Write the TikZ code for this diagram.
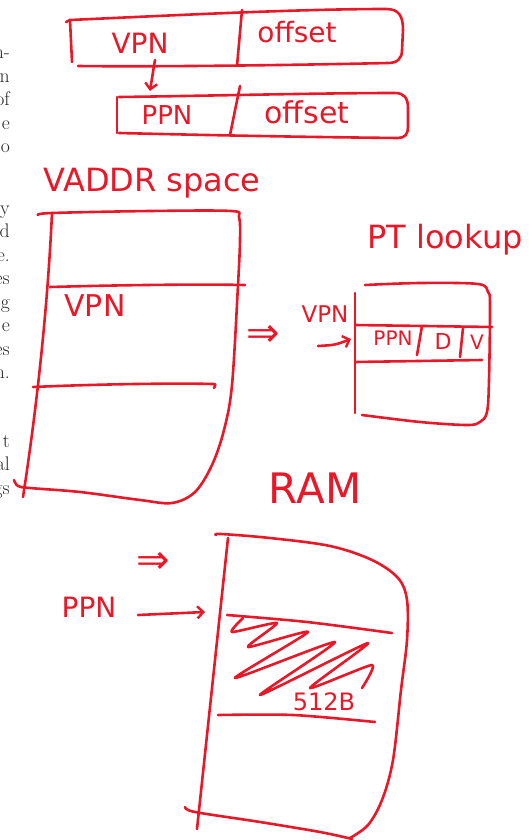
\documentclass[tikz,border=0pt]{standalone}
\usepackage{fontspec}
\newfontfamily\hand{DejaVu Sans}
\usetikzlibrary{arrows.meta}
\definecolor{ink}{RGB}{232,24,40}
\begin{document}
\begin{tikzpicture}[x=1pt,y=-1pt,
  pen/.style={draw=ink, line width=2.6pt, line cap=round, line join=round},
  barb/.style={-{Straight Barb[length=6pt,width=12pt,line width=2.4pt]}},
  handtext/.style={text=ink, inner sep=0pt, font=\hand\fontsize{#1}{#1}\selectfont},
  margintext/.style={anchor=base east, inner sep=0pt, text=black!85,
    font=\fontsize{19.7}{23.5}\selectfont}]
\useasboundingbox (0,0) rectangle (529,840);

% running text at the left margin
\foreach \t [count=\i from 0] in {n-,n,of,e,o}
  \node[margintext] (mA\i) at (10,59+23.5*\i) {\t};
\foreach \t [count=\i from 0] in {y,d,e.,es,g,e,es,n.}
  \node[margintext] (mB\i) at (10,214+23.5*\i) {\t};
\foreach \t [count=\i from 0] in {t,al,gs}
  \node[margintext] (mC\i) at (10,447+23.5*\i) {\t};

% virtual address: VPN | offset
\draw[pen] (66,22) -- (70,20) .. controls (180,15) and (300,9) .. (386,9)
  .. controls (399,9) and (403,16) .. (403,30) -- (402,50)
  .. controls (402,59) and (397,63) .. (388,63)
  .. controls (300,65) and (160,67) .. (78,66);
\draw[pen] (70,20) -- (72,62);
\draw[pen] (242,10) -- (237,66);
\node[handtext=28] (vpnA) at (140,43) {VPN};
\node[handtext=28] (offA) at (297,32) {offset};

% physical address: PPN | offset
\draw[pen] (117,97) -- (117,133);
\draw[pen] (119,97) .. controls (200,96) and (320,93) .. (395,93)
  .. controls (404,93) and (408,98) .. (408,108) -- (408,127)
  .. controls (408,134) and (405,138) .. (398,138)
  .. controls (300,137) and (200,135) .. (119,133);
\draw[pen] (240,86) -- (230,135);
\node[handtext=26] (ppnB) at (167,115) {PPN};
\node[handtext=30] (offB) at (307,112) {offset};

\coordinate (vpnTail) at (155,60);
\coordinate (ppnHead) at (150,91);
\draw[pen,barb] (vpnTail) .. controls (153,72) .. (ppnHead);

% virtual address space
\node[handtext=32] (vaddr) at (152,183) {VADDR space};
\draw[pen] plot[smooth, tension=0.55] coordinates {(38,215) (52,213) (150,211) (231,211)
  (239,217) (240,240) (238,285) (232,385) (224,430) (212,465) (195,492) (172,503)
  (140,500) (80,492) (30,488) (18,486) (14,480)};
\draw[pen] (52,213) .. controls (48,300) and (38,400) .. (23,497);
\draw[pen] (50,287) .. controls (120,285) and (200,284) .. (245,285);
\draw[pen] (33,387) .. controls (100,384) and (180,383) .. (212,384)
  .. controls (216,384) .. (214,388);
\node[handtext=30] (vpnC) at (95,306) {VPN};

\node[handtext=40] (impA) at (263,336) {⇒};

% page table
\node[handtext=32] (ptl) at (445,240) {PT lookup};
\draw[pen] (355,293) -- (355,413);
\draw[pen] plot[smooth, tension=0.55] coordinates {(365,285) (420,283) (478,284)
  (488,292) (490,305) (489,380) (487,412) (480,422) (467,425) (420,422) (362,415)};
\draw[pen] (355,325) -- (492,327);
\draw[pen] (355,362) -- (482,360);
\draw[pen] (422,326) -- (417,355);
\draw[pen] (463,328) -- (460,357);
\node[handtext=20] (ppnD) at (393,338) {PPN};
\node[handtext=22] (dD) at (443,341) {D};
\node[handtext=20] (vD) at (477,342) {V};
\node[handtext=23] (vpnD) at (325,314) {VPN};
\coordinate (ptTail) at (318,346);
\coordinate (ptHead) at (351,339);
\draw[pen,barb] (ptTail) .. controls (335,345) .. (ptHead);

% physical memory
\node[handtext=42] (ram) at (315,488) {RAM};
\draw[pen] plot[smooth, tension=0.55] coordinates {(216,535) (221,534) (270,538) (330,546)
  (372,560) (398,578) (407,600) (407,640) (401,690) (393,760) (382,800) (368,825) (350,838)};
\draw[pen] plot[smooth, tension=0.55] coordinates {(185,807) (195,812) (260,822) (320,832) (352,839)};
\draw[pen] (228,538) -- (197,829);
\draw[pen] plot[smooth] coordinates {(227,615) (307,622) (392,633)};
\draw[pen] plot[smooth] coordinates {(218,715) (293,715) (375,722)};
\draw[pen] plot[smooth, tension=0.35] coordinates {(243,618) (232,632) (277,623) (248,647)
  (308,632) (235,678) (335,642) (260,695) (368,643) (310,688) (372,665) (362,688)};
\node[handtext=24] (sz) at (324,702) {512B};

\node[handtext=40] (impB) at (153,563) {⇒};
\node[handtext=28] (ppnE) at (89,607) {PPN};
\coordinate (ramTail) at (138,615);
\coordinate (ramHead) at (205,612);
\draw[pen,barb] (ramTail) -- (ramHead);
\end{tikzpicture}
\end{document}
